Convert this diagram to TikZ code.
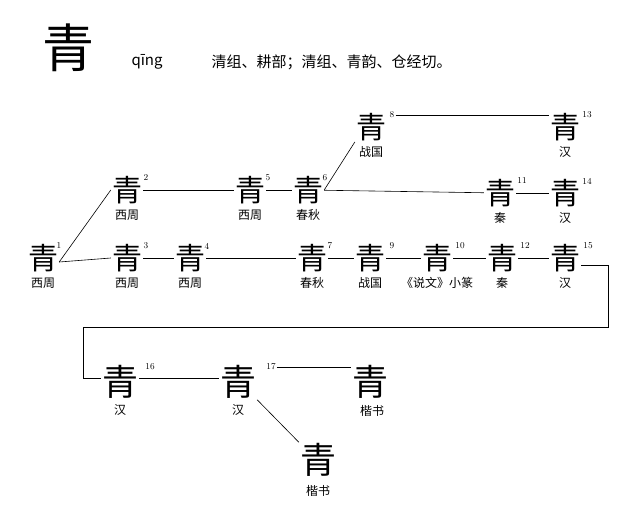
\documentclass[tikz,border=0pt]{standalone}
\usepackage{fontspec}
\newfontfamily\cjk{Noto Sans CJK SC}
\begin{document}
\begin{tikzpicture}[x=1pt,y=-1pt,
  g/.style={font=\cjk\fontsize{30}{30}\selectfont,inner sep=1pt},
  lb/.style={font=\cjk\fontsize{12}{12}\selectfont,inner sep=0pt},
  nm/.style={font=\fontsize{9}{9}\selectfont,inner sep=1pt},
  ln/.style={line width=0.6pt}]
\useasboundingbox (0,0) rectangle (640,522);
\node[font=\cjk\fontsize{52}{52}\selectfont] (title) at (68,48) {青};
\node[anchor=west,font=\cjk\fontsize{15}{15}\selectfont] (py) at (128,62) {qīng};
\node[anchor=west,font=\cjk\fontsize{15}{15}\selectfont] (desc) at (208,62) {清组、耕部；清组、青韵、仓经切。};
% glyphs
\foreach \n/\x/\y/\l/\num/\nx in {
 a1/43/258/西周/1/59, a2/127/190/西周/2/146, a3/127/258/西周/3/146, a4/190/258/西周/4/207,
 a5/250/190/西周/5/268, a6/308/190/春秋/6/325, a8/371/127/战国/8/392, a13/565/127/汉/13/587,
 a11/500/193/秦/11/522, a14/565/193/汉/14/587, a7/312/258/春秋/7/330, a9/370/258/战国/9/392,
 a10/437/258/《说文》小篆/10/460, a12/502/258/秦/12/525, a15/565/258/汉/15/588}{
 \node[g] (\n) at (\x,\y) {青};
 \node[lb] (\n l) at (\x,\y+25) {\l};
 \node[nm] (\n n) at (\nx,\y-12) {\num};
}
\node[g,font=\cjk\fontsize{36}{36}\selectfont] (a16) at (120,382) {青};
\node[lb] (a16l) at (120,410) {汉};
\node[nm] (a16n) at (150,367) {16};
\node[g,font=\cjk\fontsize{36}{36}\selectfont] (a17) at (238,382) {青};
\node[lb] (a17l) at (238,410) {汉};
\node[nm] (a17n) at (271,367) {17};
\node[g,font=\cjk\fontsize{36}{36}\selectfont] (k1) at (370,382) {青};
\node[lb] (k1l) at (372,411) {楷书};
\node[g,font=\cjk\fontsize{36}{36}\selectfont] (k2) at (318,460) {青};
\node[lb] (k2l) at (318,491) {楷书};
% connectors
\draw[ln] ([yshift=-4pt]a1.east) -- (a2.west);
\draw[ln] ([yshift=-4pt]a1.east) -- (a3.west);
\draw[ln] (a2) -- (a5);
\draw[ln] (a5) -- (a6);
\draw[ln] (a6.east) -- (a8.south west);
\draw[ln] (a8n.east) -- (a13.west|-a8n);
\draw[ln] (a6) -- (a11);
\draw[ln] (a11) -- (a14);
\draw[ln] (a3) -- (a4);
\draw[ln] (a4) -- (a7);
\draw[ln] (a7) -- (a9);
\draw[ln] (a9) -- (a10);
\draw[ln] (a10) -- (a12);
\draw[ln] (a12) -- (a15);
\coordinate (c1) at (608,265);
\coordinate (c2) at (608,327);
\coordinate (c3) at (83,327);
\coordinate (c4) at (83,378);
\draw[ln] (a15.east|-c1) -- (c1) -- (c2) -- (c3) -- (c4) -- (a16.west|-c4);
\draw[ln] (a16.east|-c4) -- (a17.west|-c4);
\draw[ln] (a17n.east) -- (k1.west|-a17n);
\draw[ln] (a17.south east) -- (k2.north west);
\end{tikzpicture}
\end{document}
